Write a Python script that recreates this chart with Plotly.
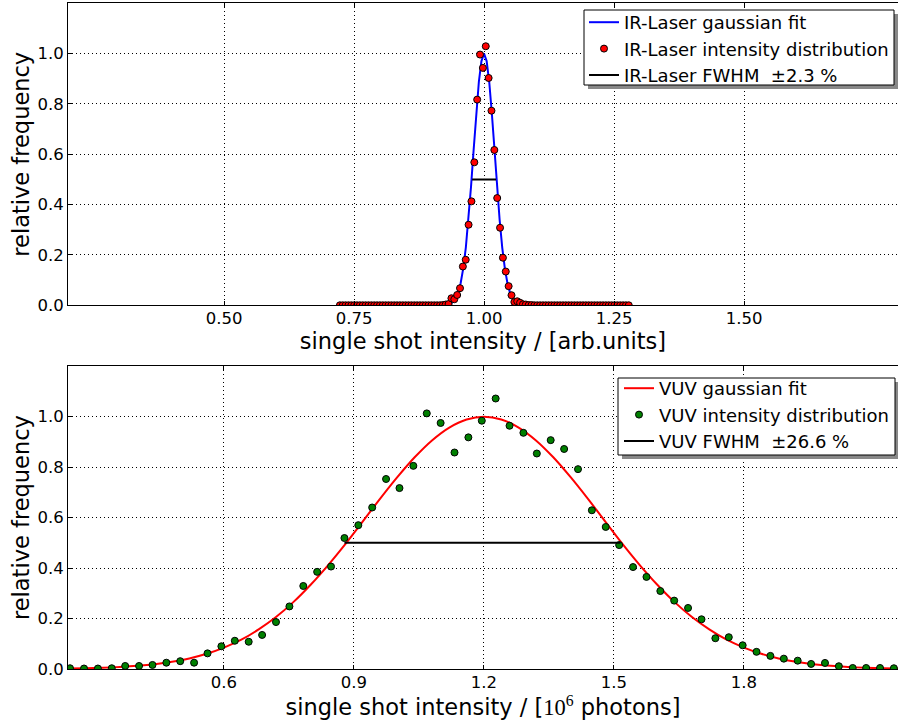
import plotly.graph_objects as go

# ---------------- data ----------------
IR_X = [0.7228, 0.7283, 0.7338, 0.7393, 0.7448, 0.7503, 0.7558, 0.7613, 0.7668, 0.7723,
        0.7778, 0.7833, 0.7888, 0.7943, 0.7998, 0.8053, 0.8108, 0.8163, 0.8218, 0.8273,
        0.8328, 0.8383, 0.8438, 0.8493, 0.8548, 0.8603, 0.8658, 0.8713, 0.8768, 0.8823,
        0.8878, 0.8933, 0.8988, 0.9043, 0.9098, 0.9153, 0.9208, 0.9263, 0.9318, 0.9373,
        0.9428, 0.9483, 0.9538, 0.9593, 0.9648, 0.9703, 0.9758, 0.9813, 0.9868, 0.9923,
        0.9978, 1.0033, 1.0088, 1.0143, 1.0198, 1.0253, 1.0308, 1.0363, 1.0418, 1.0473,
        1.0528, 1.0583, 1.0638, 1.0693, 1.0748, 1.0803, 1.0858, 1.0913, 1.0968, 1.1023,
        1.1078, 1.1133, 1.1188, 1.1243, 1.1298, 1.1353, 1.1408, 1.1463, 1.1518, 1.1573,
        1.1628, 1.1683, 1.1738, 1.1793, 1.1848, 1.1903, 1.1958, 1.2013, 1.2068, 1.2123,
        1.2178, 1.2233, 1.2288, 1.2343, 1.2398, 1.2453, 1.2508, 1.2563, 1.2618, 1.2673,
        1.2728, 1.2783]
IR_Y = [0.0, 0.0, 0.0, 0.0, 0.0, 0.0, 0.0, 0.0, 0.0, 0.0,
        0.0, 0.0, 0.0, 0.0, 0.0, 0.0, 0.0, 0.0, 0.0, 0.0,
        0.0, 0.0, 0.0, 0.0, 0.0, 0.0, 0.0, 0.0, 0.0, 0.0,
        0.0, 0.0, 0.0, 0.0, 0.0, 0.0, 0.001, 0.003, 0.005, 0.028,
        0.024, 0.041, 0.068, 0.154, 0.181, 0.320, 0.413, 0.568, 0.817, 0.996,
        0.943, 1.029, 0.903, 0.773, 0.617, 0.426, 0.308, 0.189, 0.134, 0.076,
        0.040, 0.013, 0.016, 0.010, 0.004, 0.003, 0.001, 0.001, 0.0, 0.0,
        0.0, 0.0, 0.0, 0.0, 0.0, 0.0, 0.0, 0.0, 0.0, 0.0,
        0.0, 0.0, 0.0, 0.0, 0.0, 0.0, 0.0, 0.0, 0.0, 0.0,
        0.0, 0.0, 0.0, 0.0, 0.0, 0.0, 0.0, 0.0, 0.0, 0.0,
        0.0, 0.0]

IR_FIT_X = [0.7228, 0.90, 0.92, 0.925, 0.93, 0.935, 0.94, 0.945, 0.95, 0.955, 0.96, 0.965,
            0.97, 0.975, 0.98, 0.985, 0.99, 0.995, 1.0, 1.005, 1.01, 1.015, 1.02, 1.025,
            1.03, 1.035, 1.04, 1.045, 1.05, 1.055, 1.06, 1.065, 1.07, 1.075, 1.08, 1.10, 1.2783]
IR_FIT_Y = [0.0, 0.0, 0.0005, 0.0012, 0.0028, 0.0062, 0.0132, 0.0264, 0.0496, 0.0877, 0.1463, 0.2295,
            0.339, 0.472, 0.618, 0.763, 0.887, 0.970, 1.0, 0.970, 0.887, 0.763, 0.618, 0.472,
            0.339, 0.2295, 0.1463, 0.0877, 0.0496, 0.0264, 0.0132, 0.0062, 0.0028, 0.0012, 0.0005, 0.0, 0.0]

IR_FWHM_X = [0.977, 1.023]
IR_FWHM_Y = [0.5, 0.5]

VUV_X = [0.2446, 0.277, 0.309, 0.341, 0.372, 0.404, 0.435, 0.467, 0.499, 0.531,
         0.562, 0.594, 0.625, 0.657, 0.688, 0.720, 0.751, 0.783, 0.815, 0.847,
         0.878, 0.910, 0.942, 0.974, 1.005, 1.037, 1.068, 1.100, 1.132, 1.164,
         1.195, 1.227, 1.259, 1.291, 1.322, 1.354, 1.385, 1.417, 1.449, 1.481,
         1.512, 1.544, 1.575, 1.607, 1.639, 1.671, 1.702, 1.734, 1.765, 1.797,
         1.829, 1.861, 1.892, 1.924, 1.955, 1.987, 2.019, 2.051, 2.082, 2.114, 2.146]
VUV_Y = [0.003, 0.002, 0.002, 0.003, 0.012, 0.012, 0.016, 0.025, 0.031, 0.025,
         0.062, 0.090, 0.112, 0.108, 0.135, 0.186, 0.248, 0.329, 0.385, 0.406,
         0.519, 0.570, 0.640, 0.753, 0.717, 0.805, 1.013, 0.975, 0.858, 0.918,
         0.984, 1.072, 0.964, 0.936, 0.854, 0.907, 0.872, 0.792, 0.629, 0.563,
         0.491, 0.404, 0.365, 0.309, 0.271, 0.242, 0.197, 0.122, 0.126, 0.094,
         0.068, 0.052, 0.041, 0.033, 0.020, 0.024, 0.011, 0.004, 0.004, 0.004, 0.003]

VUV_FIT_X = [0.24, 0.28, 0.32, 0.36, 0.40, 0.44, 0.48, 0.52, 0.56, 0.60, 0.64, 0.68,
             0.72, 0.76, 0.80, 0.84, 0.88, 0.92, 0.96, 1.00, 1.04, 1.08, 1.12, 1.16,
             1.20, 1.24, 1.28, 1.32, 1.36, 1.40, 1.44, 1.48, 1.52, 1.56, 1.60, 1.64,
             1.68, 1.72, 1.76, 1.80, 1.84, 1.88, 1.92, 1.96, 2.00, 2.04, 2.08, 2.12, 2.16]
VUV_FIT_Y = [0.0018, 0.0030, 0.0049, 0.0079, 0.0124, 0.0190, 0.0286, 0.0419, 0.0602, 0.0847, 0.116, 0.157,
             0.206, 0.265, 0.334, 0.411, 0.495, 0.584, 0.674, 0.760, 0.839, 0.906, 0.957, 0.989,
             1.000, 0.989, 0.957, 0.906, 0.839, 0.760, 0.674, 0.584, 0.495, 0.411, 0.334, 0.265,
             0.206, 0.157, 0.116, 0.0847, 0.0602, 0.0419, 0.0286, 0.0190, 0.0124, 0.0079, 0.0049, 0.0030, 0.0018]

VUV_FWHM_X = [0.878, 1.515]
VUV_FWHM_Y = [0.5, 0.5]

IR_TICKS = [0.50, 0.75, 1.00, 1.25, 1.50]
VUV_TICKS = [0.6, 0.9, 1.2, 1.5, 1.8]
Y_TICKS = [0.0, 0.2, 0.4, 0.6, 0.8, 1.0]

# ---------------- figure ----------------
W, H = 898, 720
FONT = "DejaVu Sans"

fig = go.Figure()

# top panel
fig.add_trace(go.Scatter(x=IR_FIT_X, y=IR_FIT_Y, mode="lines", name="IR-Laser gaussian fit",
                         line=dict(color="#0000ff", width=2), xaxis="x", yaxis="y", legend="legend"))
fig.add_trace(go.Scatter(x=IR_X, y=IR_Y, mode="markers", name="IR-Laser intensity distribution",
                         marker=dict(color="#ff0000", size=7, line=dict(color="black", width=1)),
                         xaxis="x", yaxis="y", legend="legend"))
fig.add_trace(go.Scatter(x=IR_FWHM_X, y=IR_FWHM_Y, mode="lines", name="IR-Laser FWHM  \u00b12.3 %",
                         line=dict(color="black", width=2), xaxis="x", yaxis="y", legend="legend"))

# bottom panel
fig.add_trace(go.Scatter(x=VUV_FIT_X, y=VUV_FIT_Y, mode="lines", name="VUV gaussian fit",
                         line=dict(color="#ff0000", width=2, shape="spline"), xaxis="x2", yaxis="y2",
                         legend="legend2"))
fig.add_trace(go.Scatter(x=VUV_X, y=VUV_Y, mode="markers", name="VUV intensity distribution",
                         marker=dict(color="#008000", size=7, line=dict(color="black", width=1)),
                         xaxis="x2", yaxis="y2", legend="legend2"))
fig.add_trace(go.Scatter(x=VUV_FWHM_X, y=VUV_FWHM_Y, mode="lines", name="VUV FWHM  \u00b126.6 %",
                         line=dict(color="black", width=2), xaxis="x2", yaxis="y2", legend="legend2"))

xdom = [68 / W, 1.0]
top_dom = [(H - 305.3) / H, (H - 3.2) / H]
bot_dom = [(H - 669.0) / H, (H - 366.2) / H]

common = dict(showline=True, linecolor="black", linewidth=1, ticks="inside", ticklen=4,
              tickcolor="black", showgrid=True, gridcolor="black", griddash="1px,3px", gridwidth=1,
              zeroline=False, tickfont=dict(family=FONT, size=16.5, color="black"), automargin=False)

legend_common = dict(xanchor="right", yanchor="top", bgcolor="rgba(0,0,0,0)",
                     borderwidth=0, font=dict(family=FONT, size=18, color="black"), tracegroupgap=0)


def px_x(v):
    return v / W


def px_y(v):
    return (H - v) / H


fig.update_layout(
    width=W, height=H, template="none",
    margin=dict(l=0, r=0, t=0, b=0),
    paper_bgcolor="white", plot_bgcolor="white",
    font=dict(family=FONT, color="black"),
    xaxis=dict(domain=xdom, anchor="y", range=[0.2, 1.796], tickvals=IR_TICKS, tickformat=".2f",
               mirror="ticks", ticklabelstandoff=-2,
               title=dict(text="single shot intensity / [arb.units]", font=dict(size=22.5), standoff=0),
               **common),
    yaxis=dict(domain=top_dom, anchor="x", range=[0, 1.2], tickvals=Y_TICKS, tickformat=".1f",
               mirror=False,
               title=dict(text="relative frequency", font=dict(size=22.5), standoff=1),
               **common),
    xaxis2=dict(domain=xdom, anchor="y2", range=[0.24, 2.1555], tickvals=VUV_TICKS, tickformat=".1f",
                mirror="ticks", ticklabelstandoff=-2,
                title=dict(text="single shot intensity / [<span style=\"font-family:'Liberation Serif'\">10<sup>6</sup></span> photons]",
                           font=dict(size=22.5), standoff=0),
                **common),
    yaxis2=dict(domain=bot_dom, anchor="x2", range=[0, 1.2], tickvals=Y_TICKS, tickformat=".1f",
                mirror=False,
                title=dict(text="relative frequency", font=dict(size=22.5), standoff=1),
                **common),
    legend=dict(x=px_x(894), y=px_y(4), **legend_common),
    legend2=dict(x=px_x(894), y=px_y(370), **legend_common),
    shapes=[
        # legend shadows
        dict(type="rect", xref="paper", yref="paper", x0=px_x(588), x1=px_x(898),
             y0=px_y(89), y1=px_y(14), fillcolor="#888888", line=dict(width=0), layer="above"),
        dict(type="rect", xref="paper", yref="paper", x0=px_x(622), x1=px_x(899),
             y0=px_y(459), y1=px_y(382), fillcolor="#888888", line=dict(width=0), layer="above"),
        # legend frames
        dict(type="rect", xref="paper", yref="paper", x0=px_x(584), x1=px_x(894),
             y0=px_y(85), y1=px_y(10), fillcolor="white", line=dict(color="black", width=1), layer="above"),
        dict(type="rect", xref="paper", yref="paper", x0=px_x(618), x1=px_x(895),
             y0=px_y(455), y1=px_y(378), fillcolor="white", line=dict(color="black", width=1), layer="above"),
    ],
)

fig.write_html("out.html", config={"displayModeBar": False},
               post_script="document.body.style.margin='0px';document.body.style.overflow='hidden';")
